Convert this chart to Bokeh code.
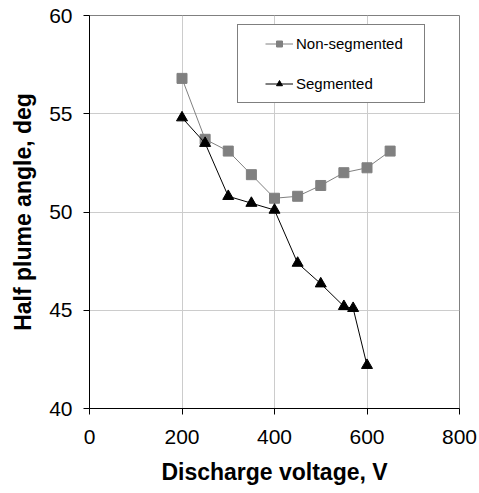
from bokeh.plotting import figure
from bokeh.models import Range1d, FixedTicker, Legend, LegendItem
from bokeh.embed import file_html
from bokeh.resources import INLINE

voltage_ns = [200, 250, 300, 350, 400, 450, 500, 550, 600, 650]
angle_ns = [56.8, 53.7, 53.1, 51.9, 50.7, 50.8, 51.35, 52.0, 52.25, 53.1]

voltage_s = [200, 250, 300, 350, 400, 450, 500, 550, 570, 600]
angle_s = [54.8, 53.5, 50.8, 50.45, 50.1, 47.4, 46.35, 45.2, 45.1, 42.2]

x_ticks = [0, 200, 400, 600, 800]
y_ticks = [40, 45, 50, 55, 60]

FONT = "Liberation Sans"

p = figure(width=479, height=493, output_backend="svg", toolbar_location=None,
           x_range=Range1d(0, 800), y_range=Range1d(40, 60),
           min_border_left=89, min_border_right=20, min_border_top=15, min_border_bottom=85)

p.background_fill_color = "white"
p.border_fill_color = "white"
p.outline_line_color = "#808080"
p.outline_line_width = 1

for ax in (p.xaxis[0], p.yaxis[0]):
    ax.major_label_text_font = FONT
    ax.major_label_text_font_size = "21px"
    ax.major_label_text_color = "black"
    ax.axis_label_text_font = FONT
    ax.axis_label_text_font_size = "23px"
    ax.axis_label_text_font_style = "bold"
    ax.axis_label_text_color = "black"
    ax.axis_line_color = "black"
    ax.major_tick_line_color = "black"
    ax.major_tick_in = 0
    ax.major_tick_out = 6
    ax.minor_tick_line_color = None

p.xaxis.ticker = FixedTicker(ticks=x_ticks)
p.yaxis.ticker = FixedTicker(ticks=y_ticks)
p.xaxis.axis_label = "Discharge voltage, V"
p.yaxis.axis_label = "Half plume angle, deg"
p.xaxis.major_label_standoff = 15
p.yaxis.major_label_standoff = 11
p.xaxis.axis_label_standoff = 12
p.yaxis.axis_label_standoff = 10

p.xgrid.grid_line_color = "#cccccc"
p.ygrid.grid_line_color = "#cccccc"
p.xgrid.ticker = FixedTicker(ticks=x_ticks)
p.ygrid.ticker = FixedTicker(ticks=y_ticks)

l1 = p.line(voltage_ns, angle_ns, line_color="#808080", line_width=1)
m1 = p.scatter(voltage_ns, angle_ns, marker="square", size=10,
               fill_color="#808080", line_color="#808080")
l2 = p.line(voltage_s, angle_s, line_color="black", line_width=1)
m2 = p.scatter(voltage_s, angle_s, marker="triangle", size=11,
               fill_color="black", line_color="black")

legend = Legend(items=[LegendItem(label="Non-segmented", renderers=[l1, m1]),
                       LegendItem(label="Segmented", renderers=[l2, m2])],
                location=(148, 305), orientation="vertical")
legend.title = " "
legend.title_location = "left"
legend.title_text_font_size = "15px"
legend.title_standoff = 0
legend.label_text_font = FONT
legend.label_text_font_size = "15px"
legend.label_text_color = "black"
legend.glyph_width = 28
legend.glyph_height = 15
legend.label_height = 15
legend.label_width = 118
legend.label_standoff = 3
legend.spacing = 23
legend.padding = 10
legend.margin = 0
legend.border_line_color = "black"
legend.border_line_width = 1
legend.background_fill_color = "white"
legend.background_fill_alpha = 1
p.add_layout(legend, "center")

open("out.html", "w").write(file_html(p, INLINE))
